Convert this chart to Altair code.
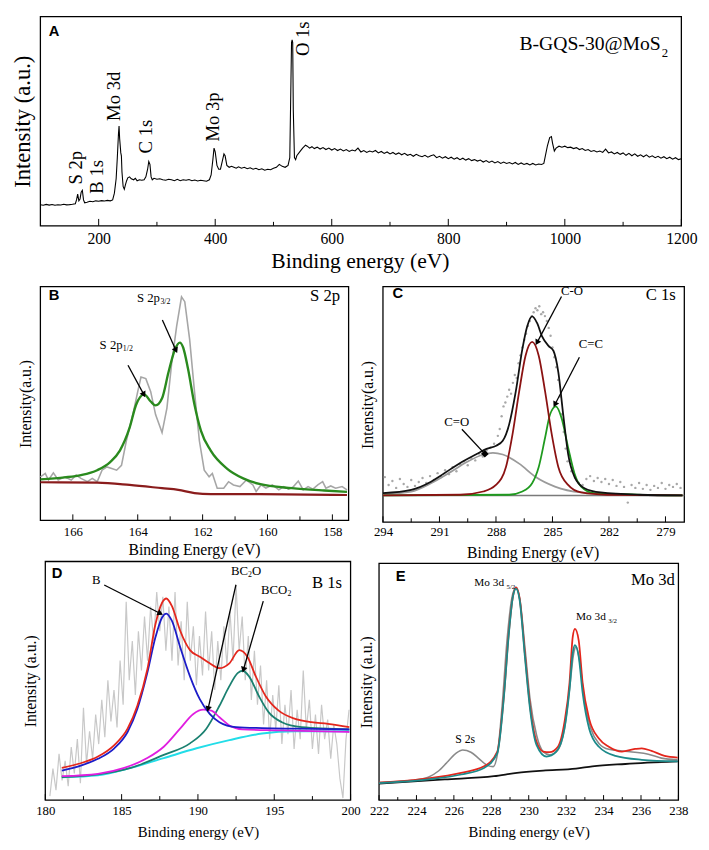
import altair as alt
import pandas as pd

SERIF = "Liberation Serif"
SANS = "Liberation Sans"
VIEW_W, VIEW_H = 657, 798

# ---------------- Panel A: survey spectrum ----------------
survey_ev = [
    100, 105, 110, 115, 120, 125, 130, 135, 140, 145,
    150, 155, 160, 162, 164, 166, 168, 170, 172, 174,
    176, 180, 185, 190, 195, 200, 205, 210, 215, 220,
    224, 227, 230, 232, 234, 235, 236, 238, 239, 240,
    242, 244, 246, 248, 250, 253, 256, 260, 263, 266,
    270, 274, 278, 281, 284, 286, 288, 290, 292, 295,
    300, 305, 310, 315, 320, 325, 330, 335, 340, 345,
    350, 355, 360, 365, 370, 375, 380, 385, 390, 393,
    396, 398, 400, 403, 406, 409, 412, 415, 417, 420,
    424, 428, 432, 436, 440, 445, 450, 455, 460, 465,
    470, 475, 480, 485, 490, 495, 500, 505, 510, 515,
    520, 525, 528, 530, 531, 532, 533, 534, 536, 538,
    540, 545, 550, 555, 558, 562, 566, 570, 575, 580,
    585, 590, 595, 600, 605, 610, 615, 620, 625, 630,
    635, 640, 645, 650, 655, 660, 665, 670, 675, 680,
    685, 690, 695, 700, 705, 710, 715, 720, 725, 730,
    735, 740, 745, 750, 755, 760, 765, 770, 775, 780,
    785, 790, 795, 800, 805, 810, 815, 820, 825, 830,
    835, 840, 845, 850, 855, 860, 865, 870, 875, 880,
    885, 890, 895, 900, 905, 910, 915, 920, 925, 930,
    935, 940, 945, 950, 955, 960, 964, 966, 970, 974,
    977, 979, 982, 985, 990, 995, 1000, 1005, 1010, 1015,
    1020, 1025, 1030, 1035, 1040, 1045, 1050, 1055, 1060, 1065,
    1070, 1075, 1080, 1085, 1090, 1095, 1100, 1105, 1110, 1115,
    1120, 1125, 1130, 1135, 1140, 1145, 1150, 1155, 1160, 1165,
    1170, 1175, 1180, 1185, 1190, 1195, 1200]
survey_int = [
    21, 20.5, 21.3, 20.6, 21.2, 20.4, 21, 20.7, 21.4, 20.8,
    21.1, 21.5, 22, 26, 32, 25, 27, 34, 36, 26,
    23, 23.5, 24.5, 24, 25, 24.6, 25.2, 24.8, 25.5, 25,
    26, 33, 48, 70, 95, 103, 90, 75, 72, 55,
    40, 37, 42, 46, 49, 50, 48, 47, 48.5, 46,
    47, 46.5, 47, 50, 58, 66, 63, 50, 47, 48.5,
    47.5, 48, 47, 46.5, 47.5, 47, 46, 47.5, 46, 47,
    46.5, 47.2, 46, 46.8, 45.8, 46.5, 46, 45.5, 47, 52,
    68, 80, 76, 62, 58, 58, 66, 74, 72, 62,
    60, 61, 60, 59, 60.5, 59, 60, 58.5, 59.5, 58,
    59, 57.5, 58.5, 57, 58, 57.5, 59, 60, 63, 61,
    60, 62, 70, 150, 190, 193, 190, 120, 70, 68,
    72, 76, 80, 83, 82, 80, 81.5, 79.5, 81, 79,
    80.5, 78.5, 80, 78, 79.5, 77.5, 79, 77, 78.5, 76.5,
    78, 77, 80, 76, 77.5, 75.5, 77, 76, 77.5, 75,
    76.5, 74.5, 76, 74, 75.5, 73.5, 75, 73, 74.5, 72.5,
    73.5, 71.5, 73.5, 72, 71, 72.5, 70.5, 72, 73, 70,
    71.5, 69.5, 71, 69, 70.5, 68.5, 70, 68, 69.5, 67.5,
    69, 67, 68, 66.5, 67.5, 65.5, 67, 65, 66.5, 64.5,
    66, 64, 65.5, 64, 65, 63.5, 65, 63, 64.5, 63,
    64, 62.5, 64, 62.5, 63.5, 63, 64, 70, 82, 91,
    92, 85, 77, 80, 82, 81, 82, 80.5, 81, 79.5,
    80.5, 78.5, 79.5, 77.5, 78.5, 76.5, 77.5, 76, 77, 75.5,
    79, 75, 76, 74, 75.5, 73.5, 75, 72.5, 74.5, 72,
    74, 71.5, 73, 71, 73, 70.5, 72, 70, 71.5, 69.5,
    71, 69, 70.5, 68.5, 70, 68, 69]
survey_labels = ["S 2p", "B 1s", "Mo 3d", "C 1s", "Mo 3p", "O 1s"]
survey_label_ev = [162, 198, 226, 281, 396, 551]
survey_label_int = [59.5, 50, 134, 92, 112.5, 194]
a_ticks_major = [200, 400, 600, 800, 1000, 1200]
a_ticks_minor = [300, 500, 700, 900, 1100]

# ---------------- Panel B: S 2p ----------------
b_raw_ev = [167.0, 166.85, 166.75, 166.6, 166.45, 166.25, 166.05, 165.9, 165.75, 165.55,
            165.4, 165.25, 165.1, 164.95, 164.8, 164.65, 164.5, 164.35, 164.15, 164.0,
            163.9, 163.75, 163.6, 163.45, 163.25, 163.1, 162.95, 162.8, 162.65, 162.55,
            162.4, 162.25, 162.1, 161.95, 161.8, 161.7, 161.55, 161.35, 161.2, 161.05,
            160.85, 160.65, 160.45, 160.35, 160.2, 160.05, 159.85, 159.65, 159.5, 159.35,
            159.2, 159.05, 158.9, 158.75, 158.6, 158.45, 158.3, 158.2, 158.05, 157.9,
            157.7, 157.55]
b_raw_int = [44.3, 47.7, 41, 48.3, 41, 44.3, 41, 46, 42.7, 39.3,
             42.7, 39.3, 51, 54.3, 52.7, 51, 56, 81, 107.7, 131,
             146, 144.3, 131, 107.7, 89.3, 114.3, 161, 197.7, 227.7, 222.7,
             184.3, 131, 81, 51, 44.3, 47.7, 32.7, 32.7, 39.3, 36,
             34.3, 41, 36, 29.3, 36, 32.7, 36, 31, 34.3, 31.7,
             34.3, 40, 31, 34.3, 31.7, 36, 39.3, 32.7, 35, 32.7,
             34.3, 31]
b_fit_ev = [167, 166.25, 165.75, 165.25, 164.85, 164.55, 164.25, 164.05, 163.8, 163.6,
            163.45, 163.25, 163.05, 162.85, 162.7, 162.6, 162.45, 162.25, 162.05, 161.75,
            161.25, 160.75, 160.25, 159.25, 158.25, 157.55]
b_fit_int = [41.7, 43.7, 46, 51, 59.3, 71, 94.3, 117.7, 128.3, 121,
             117, 124.3, 151, 174.3, 181, 176, 154.3, 117.7, 91, 71,
             52.7, 42.7, 37, 32.7, 30.3, 29]
b_bg_ev = [167, 165.25, 164.25, 163.25, 162.75, 162.25, 161.75, 160.25, 157.55]
b_bg_int = [38.7, 38.3, 36, 32.7, 31, 27.7, 26.7, 26.7, 25.7]
b_ticks_major = [158, 160, 162, 164, 166]
b_ticks_minor = [159, 161, 163, 165]

# ---------------- Panel C: C 1s ----------------
c_env_ev = [294, 292.5, 291.45, 290.76, 289.9, 289.0, 288.5, 287.99, 287.64, 287.3,
            286.95, 286.6, 286.34, 286.08, 285.82, 285.56, 285.21, 284.95, 284.69, 284.43,
            284.17, 283.83, 283.3, 282.44, 280.36, 278.1]
c_env_int = [29.7, 33, 41.3, 49.7, 60.3, 69.7, 74.7, 78, 83, 99.7,
             133, 176.3, 199.7, 209.7, 203, 189.7, 179.7, 174.7, 153, 109.7,
             69.7, 46.3, 34.7, 30.3, 28, 27.3]
c_co_ev = [294, 289.9, 288.68, 288, 287.47, 287.12, 286.77, 286.43, 286.08, 285.73,
           285.39, 285.04, 284.69, 284.17, 283.48, 282.09, 278.1]
c_co_int = [27.3, 28, 31.3, 38, 56.3, 89.7, 133, 169.7, 183.7, 169.7,
            133, 89.7, 56.3, 38, 30.3, 28, 27.3]
c_cc_ev = [294, 287.3, 286.6, 286.08, 285.73, 285.39, 285.13, 284.82, 284.52, 284.17,
           283.83, 283.48, 282.79, 278.1]
c_cc_int = [27.3, 28, 31.3, 39.7, 56.3, 86.3, 109.7, 118, 106.3, 76.3,
            49.7, 36.3, 29.7, 27.3]
c_cdo_ev = [294, 292.5, 291.45, 290.4, 289.55, 288.68, 288.16, 287.64, 286.77, 285.91,
            284.87, 283.48, 281.23, 278.1]
c_cdo_int = [28.7, 31.3, 39.7, 51.3, 61.3, 69, 70.7, 69, 59.7, 46.3,
             36.3, 30.3, 28, 27.3]
c_base_ev = [294, 278]
c_base_int = [27.3, 27.3]
c_dot_ev = [293.9, 293.7, 293.5, 293.3, 293.1, 292.9, 292.7, 292.5, 292.3, 292.1,
            291.9, 291.7, 291.5, 291.3, 291.1, 290.9, 290.7, 290.5, 290.3, 290.1,
            289.9, 289.7, 289.5, 289.3, 289.1, 288.9, 288.7, 288.5, 288.3, 288.1,
            287.9, 287.8, 287.7, 287.6, 287.5, 287.4, 287.3, 287.2, 287.1, 287.0,
            286.9, 286.8, 286.7, 286.6, 286.5, 286.4, 286.3, 286.2, 286.1, 286.0,
            285.9, 285.8, 285.7, 285.6, 285.5, 285.4, 285.3, 285.2, 285.1, 285.0,
            284.9, 284.8, 284.7, 284.6, 284.5, 284.4, 284.3, 284.2, 284.0, 283.8,
            283.6, 283.4, 283.2, 283.0, 282.8, 282.6, 282.4, 282.2, 282.0, 281.8,
            281.6, 281.4, 281.2, 281.0, 280.8, 280.6, 280.4, 280.2, 280.0, 279.8,
            279.6, 279.4, 279.2, 279.0, 278.8, 278.6, 278.4, 278.2]
c_dot_int = [46, 38, 42, 35, 44, 39, 36, 43, 37, 41,
             45, 40, 47, 43, 50, 46, 53, 49, 56, 52,
             59, 62, 58, 65, 63, 70, 67, 73, 76, 80,
             88, 95, 108, 118, 122, 128, 135, 131, 142, 150,
             147, 162, 170, 178, 186, 192, 200, 205, 210, 214,
             218, 216, 220, 212, 214, 210, 205, 198, 190, 178,
             168, 158, 145, 128, 110, 92, 75, 62, 52, 45,
             40, 38, 44, 47, 42, 45, 41, 44, 39, 43,
             37, 41, 36, 20, 38, 35, 40, 34, 38, 33,
             37, 35, 40, 34, 38, 36, 39, 35]
c_ticks_major = [294, 291, 288, 285, 282, 279]
c_ticks_minor = [292.5, 289.5, 286.5, 283.5, 280.5]

# ---------------- Panel D: B 1s ----------------
d_raw_ev = [180.3, 180.5, 180.7, 180.9, 181.1, 181.3, 181.5, 181.7, 181.9, 182.1,
            182.3, 182.5, 182.7, 182.9, 183.1, 183.3, 183.5, 183.7, 183.9, 184.1,
            184.3, 184.5, 184.7, 184.9, 185.1, 185.3, 185.5, 185.7, 185.9, 186.1,
            186.3, 186.5, 186.7, 186.9, 187.1, 187.3, 187.5, 187.7, 187.9, 188.1,
            188.3, 188.5, 188.7, 188.9, 189.1, 189.3, 189.5, 189.7, 189.9, 190.1,
            190.3, 190.5, 190.7, 190.9, 191.1, 191.3, 191.5, 191.7, 191.9, 192.1,
            192.3, 192.5, 192.7, 192.9, 193.1, 193.3, 193.5, 193.7, 193.9, 194.1,
            194.3, 194.5, 194.7, 194.9, 195.1, 195.3, 195.5, 195.7, 195.9, 196.1,
            196.3, 196.5, 196.7, 196.9, 197.1, 197.3, 197.5, 197.7, 197.9, 198.1,
            198.3, 198.5, 198.7, 198.9, 199.1, 199.3, 199.5, 199.7, 199.9]
d_raw_int = [2, 30, 8, 45, 18, 38, 12, 52, 25, 60,
             15, 92, 35, 68, 40, 85, 55, 100, 62, 120,
             78, 110, 72, 140, 95, 200, 120, 160, 105, 170,
             130, 185, 140, 195, 160, 210, 170, 205, 150, 195,
             140, 210, 135, 180, 120, 200, 140, 175, 115, 165,
             125, 190, 130, 170, 110, 160, 120, 175, 135, 190,
             140, 217, 150, 185, 120, 165, 100, 150, 95, 135,
             75, 120, 60, 105, 70, 115, 55, 95, 65, 110,
             50, 90, 60, 130, 70, 100, 50, 85, 45, 95,
             60, 80, 40, 75, 55, 20, 0, 60, 90]
d_env_ev = [181.08, 182.37, 183.45, 184.52, 185.39, 186.03, 186.68, 187.22, 187.65, 187.93,
            188.29, 188.83, 189.48, 190.12, 190.77, 191.41, 192.06, 192.71, 193.24, 193.79,
            194.43, 195.29, 196.37, 197.44, 198.52, 199.92]
d_env_int = [30.7, 35.7, 42.3, 54, 70.7, 94, 130.7, 177.3, 199, 203.3,
             195.7, 170.7, 150.7, 144, 137.3, 132.3, 137.3, 150.7, 144, 124,
             104, 89, 80.7, 77.3, 75.7, 72.3]
d_b_ev = [181.08, 182.37, 183.45, 184.52, 185.39, 186.03, 186.68, 187.22, 187.65, 187.93,
          188.29, 188.83, 189.48, 190.12, 190.77, 191.41, 192.5, 194.2, 196.37, 199.92]
d_b_int = [28, 33.3, 40, 50.7, 67.3, 90.7, 127.3, 164, 184, 188,
           180.7, 154, 124, 100.7, 85.7, 77.3, 72.3, 71.3, 70.7, 70]
d_bc2o_ev = [181.08, 183.45, 185.17, 186.68, 187.76, 188.83, 189.7, 190.34, 190.88, 191.41,
             192.06, 192.92, 195.29, 199.92]
d_bc2o_int = [22.3, 24.7, 30.7, 40.7, 52.3, 70.7, 85.7, 90, 89, 82.3,
              74, 70, 69, 67.3]
d_bco2_ev = [181.08, 183.45, 185.6, 187.76, 189.48, 190.55, 191.41, 192.06, 192.6, 192.92,
             193.35, 193.99, 194.64, 195.5, 196.8, 199.92]
d_bco2_int = [21.3, 24, 30.7, 44, 55.7, 70.7, 94, 114, 127.3, 129.7,
              124, 104, 87.3, 77.3, 72.3, 70]
d_bg_ev = [181.08, 183.45, 185.6, 187.76, 189.91, 192.06, 194.2, 196.37, 199.92]
d_bg_int = [21.3, 23.3, 30.7, 40.7, 50.7, 59, 65.7, 68, 68]
d_ticks_major = [180, 185, 190, 195, 200]
d_ticks_minor = [182.5, 187.5, 192.5, 197.5]

# ---------------- Panel E: Mo 3d ----------------
e_raw_ev = [222, 223.75, 224.63, 225.16, 225.68, 226.12, 226.47, 226.91, 227.35, 227.79,
            228.1, 228.32, 228.58, 228.84, 229.1, 229.32, 229.54, 229.81, 230.07, 230.42,
            230.77, 231.12, 231.56, 231.91, 232.18, 232.4, 232.53, 232.74, 232.96, 233.32,
            233.75, 234.28, 234.98, 235.68, 236.39, 237.09, 237.96]
e_raw_int = [16.7, 19, 22.3, 28.3, 38.3, 46.7, 50, 47.7, 41, 34.3,
             33, 45, 95, 161.7, 205, 215.7, 201.7, 151.7, 101.7, 65,
             48.3, 45, 50, 71.7, 111.7, 148.3, 155, 138.3, 101.7, 71.7,
             56.7, 50.7, 49, 47.7, 45.7, 41.7, 40]
e_env_ev = [222, 224.63, 226.39, 227.61, 228.32, 228.67, 228.93, 229.16, 229.32, 229.51,
            229.81, 230.07, 230.42, 230.77, 231.12, 231.56, 231.91, 232.18, 232.35, 232.47,
            232.67, 232.88, 233.23, 233.75, 234.28, 234.98, 235.68, 236.04, 236.56, 237.26,
            237.96]
e_env_int = [16.7, 21, 26.7, 33.3, 48.3, 105, 168.3, 206.7, 215.7, 205,
             145, 95, 58.3, 48.3, 47.7, 53.3, 78.3, 118.3, 165, 173.3,
             161.7, 118.3, 81.7, 61.7, 53.3, 48.3, 51, 51.7, 49, 44,
             42.3]
e_fit_ev = [222, 224.63, 226.39, 227.61, 228.32, 228.67, 228.93, 229.16, 229.32, 229.51,
            229.81, 230.07, 230.42, 230.95, 231.47, 231.91, 232.18, 232.35, 232.47, 232.67,
            232.88, 233.23, 233.75, 234.63, 236.04, 237.96]
e_fit_int = [16.3, 20, 25, 31.7, 46.7, 103.3, 166.7, 206.7, 214.3, 203.3,
             141.7, 91.7, 55, 43.3, 48.3, 71.7, 111.7, 148.3, 156.7, 145,
             108.3, 71.7, 53.3, 44, 40, 38.3]
e_base_ev = [222, 225.51, 228.14, 229.37, 230.77, 232.53, 233.4, 235.16, 237.96]
e_base_int = [15.7, 20, 23.3, 26.7, 29, 31, 33.3, 35.7, 38.3]
e_ticks_major = [222, 224, 226, 228, 230, 232, 234, 236, 238]
e_ticks_minor = [223, 225, 227, 229, 231, 233, 235, 237]


def xy(xs, ys):
    n = min(len(xs), len(ys))
    return pd.DataFrame({"x": list(xs)[:n], "y": list(ys)[:n]})


class Panel:
    def __init__(self, xdom, xrng, ydom, yrng, xvalues, xoffset, lab_pad,
                 ytitle, yoffset, ysize, ypad, label_size=13):
        self.xdom, self.ydom = xdom, ydom
        self.bottom = yrng[0]
        self.xs = alt.Scale(domain=xdom, range=xrng, nice=False, zero=False)
        self.ys = alt.Scale(domain=ydom, range=yrng, nice=False, zero=False)
        self.ax = alt.Axis(title=None, values=xvalues, orient="bottom", offset=xoffset,
                           ticks=False, domain=False, grid=False, labelFont=SERIF,
                           labelFontSize=label_size, labelPadding=lab_pad, labelColor="black",
                           labelFlush=False, labelOverlap=False, format="d")
        self.ay = alt.Axis(title=ytitle, orient="left", offset=yoffset, labels=False, ticks=False,
                           domain=False, grid=False, titleFont=SERIF, titleFontSize=ysize,
                           titleFontWeight="normal", titlePadding=ypad, titleColor="black")
        self.layers = []

    def X(self, f="x"):
        return alt.X(f + ":Q", scale=self.xs, axis=self.ax)

    def Y(self, f="y"):
        return alt.Y(f + ":Q", scale=self.ys, axis=self.ay)

    def line(self, xs, ys, color, width, interp="monotone"):
        self.layers.append(alt.Chart(xy(xs, ys)).mark_line(
            color=color, strokeWidth=width, interpolate=interp).encode(x=self.X(), y=self.Y()))

    def dots(self, xs, ys, color, size):
        self.layers.append(alt.Chart(xy(xs, ys)).mark_circle(
            color=color, size=size, opacity=1).encode(x=self.X(), y=self.Y()))

    def frame(self):
        d = pd.DataFrame({"x": [self.xdom[0]], "x2": [self.xdom[1]],
                          "y": [self.ydom[0]], "y2": [self.ydom[1]]})
        self.layers.append(alt.Chart(d).mark_rect(fillOpacity=0, stroke="black", strokeWidth=1.3).encode(
            x=self.X(), x2="x2:Q", y=self.Y(), y2="y2:Q"))

    def ticks(self, values, length):
        d = pd.DataFrame({"v": values})
        self.layers.append(alt.Chart(d).mark_rule(color="black", strokeWidth=1).encode(
            x=self.X("v"), y=alt.value(self.bottom), y2=alt.value(self.bottom - length)))

    def text(self, t, x, y, size, angle=0, align="center", dx=0, dy=0, font=SERIF, weight="normal"):
        d = pd.DataFrame({"t": [t], "x": [x], "y": [y]})
        self.layers.append(alt.Chart(d).mark_text(
            font=font, fontSize=size, angle=angle, align=align, baseline="middle", dx=dx, dy=dy,
            color="black", fontWeight=weight).encode(x=self.X(), y=self.Y(), text="t:N"))

    def ptext(self, t, px, py, size, align="center", font=SERIF, weight="normal"):
        d = pd.DataFrame({"t": [t]})
        self.layers.append(alt.Chart(d).mark_text(
            font=font, fontSize=size, align=align, baseline="middle", color="black",
            fontWeight=weight).encode(x=alt.value(px), y=alt.value(py), text="t:N"))

    def arrow(self, x0, y0, x1, y1, angle, shape="triangle-up", size=45):
        d = pd.DataFrame({"x": [x0], "y": [y0], "x2": [x1], "y2": [y1]})
        self.layers.append(alt.Chart(d).mark_rule(color="black", strokeWidth=1.3).encode(
            x=self.X(), y=self.Y(), x2="x2:Q", y2="y2:Q"))
        self.layers.append(alt.Chart(d).mark_point(
            shape=shape, filled=True, size=size, angle=angle, color="black", opacity=1).encode(
            x=self.X("x2"), y=self.Y("y2")))

    def chart(self):
        return alt.layer(*self.layers)


# ----- A -----
A = Panel([100, 1200], [0, 653], [-1, 217], [213, 0], a_ticks_major,
          -(VIEW_H - 213), 5, "Intensity (a.u.)", 0, 23, 6, label_size=16)
A.frame()
A.line(survey_ev, survey_int, "black", 1.1, "linear")
for lab, ex, iy in zip(survey_labels, survey_label_ev, survey_label_int):
    A.text(lab, ex, iy, 19, angle=270)
A.ptext("B-GQS-30@MoS", 632, 28, 20, align="right")
A.ptext("2", 633, 37, 13, align="left")
A.ptext("A", 14, 15, 15, font=SANS, weight="bold")
A.ptext("Binding energy (eV)", 326, 249, 22)
A.ticks(a_ticks_major, 7)
A.ticks(a_ticks_minor, 4)

# ----- B -----
B = Panel([167, 157.5], [0, 314], [0, 238], [513, 275], b_ticks_major,
          -(VIEW_H - 513), 6, "Intensity(a.u.)", 0, 16, 7)
B.frame()
B.line(b_raw_ev, b_raw_int, "#a6a6a6", 1.6, "linear")
B.line(b_bg_ev, b_bg_int, "#8a1c1c", 2.2)
B.line(b_fit_ev, b_fit_int, "#2a8a1e", 2.4)
B.text("S 2p", 163.67, 226, 13)
B.text("3/2", 163.30, 222, 8, align="left")
B.text("S 2p", 164.82, 178, 13)
B.text("1/2", 164.46, 174, 8, align="left")
B.arrow(163.24, 204, 162.82, 173, 156)
B.arrow(164.3, 158, 163.81, 128, 152)
B.ptext("S 2p", 290, 285, 17)
B.ptext("B", 14, 284, 15, font=SANS, weight="bold")
B.ptext("Binding Energy (eV)", 157, 543, 16)
B.ticks(b_ticks_major, 6)
B.ticks(b_ticks_minor, 4)

# ----- C -----
C = Panel([294, 278], [349, 656], [0, 240], [515, 275], c_ticks_major,
          -(VIEW_H - 515), 4, "Intensity(a.u.)", -349, 16, 8)
C.frame()
C.dots(c_dot_ev, c_dot_int, "#a8a8a8", 6)
C.line(c_base_ev, c_base_int, "#7a7a7a", 1.5, "linear")
C.line(c_cdo_ev, c_cdo_int, "#9a9a9a", 1.8)
C.line(c_cc_ev, c_cc_int, "#1f9a1f", 1.8)
C.line(c_co_ev, c_co_int, "#8b1212", 1.8)
C.line(c_env_ev, c_env_int, "#111111", 1.8)
C.text("C-O", 283.96, 235, 13)
C.arrow(284.52, 230, 285.82, 183, 208)
C.text("C=C", 282.96, 181, 13)
C.arrow(283.57, 168, 284.87, 120, 207)
C.text("C=O", 290.08, 102, 13)
C.arrow(289.81, 94.7, 288.59, 69.7, 136, shape="square", size=30)
C.ptext("C 1s", 632, 284, 17)
C.ptext("C", 364, 282, 15, font=SANS, weight="bold")
C.ptext("Binding Energy (eV)", 502, 546, 16)
C.ticks(c_ticks_major, 6)
C.ticks(c_ticks_minor, 4)

# ----- D -----
D = Panel([180, 200], [5, 316], [-2, 241], [798, 555], d_ticks_major,
          0, 5, "Intensity (a.u.)", -5, 16, 7)
D.frame()
D.line(d_raw_ev, d_raw_int, "#c8c8c8", 1.2, "linear")
D.line(d_bg_ev, d_bg_int, "#22dde8", 2)
D.line(d_bco2_ev, d_bco2_int, "#1a8070", 1.8)
D.line(d_bc2o_ev, d_bc2o_int, "#e01ee0", 1.8)
D.line(d_b_ev, d_b_int, "#1c1cc8", 1.8)
D.line(d_env_ev, d_env_int, "#e4261c", 1.8)
D.text("B", 183.34, 222.3, 13)
D.arrow(183.86, 217, 187.54, 188, 117)
D.text("BC", 192.16, 231, 13, align="left")
D.text("2", 192.16, 231, 8, align="left", dx=17.5, dy=4)
D.text("O", 192.16, 231, 13, align="left", dx=21.5)
D.arrow(192.49, 217.3, 190.66, 90.7, 193)
D.text("BCO", 194.13, 212.3, 13, align="left")
D.text("2", 194.13, 212.3, 8, align="left", dx=27, dy=4)
D.arrow(194.28, 200.7, 192.98, 130.7, 196)
D.ptext("B 1s", 292, 577, 17)
D.ptext("D", 17, 567, 15, font=SANS, weight="bold")
D.ptext("Binding energy (eV)", 161, 831, 15)
D.ticks(d_ticks_major, 6)
D.ticks(d_ticks_minor, 4)

# ----- E -----
E = Panel([222, 238], [345, 650], [-1, 240], [798, 557], e_ticks_major,
          0, 5, "Intensity (a.u.)", -345, 16, 5)
E.frame()
E.line(e_base_ev, e_base_int, "#111111", 1.8)
E.line(e_raw_ev, e_raw_int, "#8a8a8a", 1.6)
E.line(e_env_ev, e_env_int, "#e4261c", 1.8)
E.line(e_fit_ev, e_fit_int, "#1c8a8a", 1.8)
E.text("Mo 3d", 227.09, 220, 11.5, align="left")
E.text("5/2", 228.81, 216, 7, align="left")
E.text("Mo 3d", 232.53, 185, 11.5, align="left")
E.text("3/2", 234.25, 181, 7, align="left")
E.text("S 2s", 226.6, 60.7, 12)
E.ptext("Mo 3d", 624, 574, 17)
E.ptext("E", 367, 570, 15, font=SANS, weight="bold")
E.ptext("Binding energy (eV)", 498, 831, 15)
E.ticks(e_ticks_major, 5)
E.ticks(e_ticks_minor, 3)

chart = alt.layer(A.chart(), B.chart(), C.chart(), D.chart(), E.chart()).resolve_scale(
    x="independent", y="independent").resolve_axis(x="independent", y="independent").properties(
    width=VIEW_W, height=VIEW_H, padding={"left": 4, "top": 0, "right": 4, "bottom": 0},
    background="white").configure_view(stroke=None).configure_axis(
    titleFont=SERIF, titleFontWeight="normal", labelFont=SERIF, titleColor="black",
    labelColor="black")

chart.save("out.html", embed_options={"renderer": "svg", "actions": False})
